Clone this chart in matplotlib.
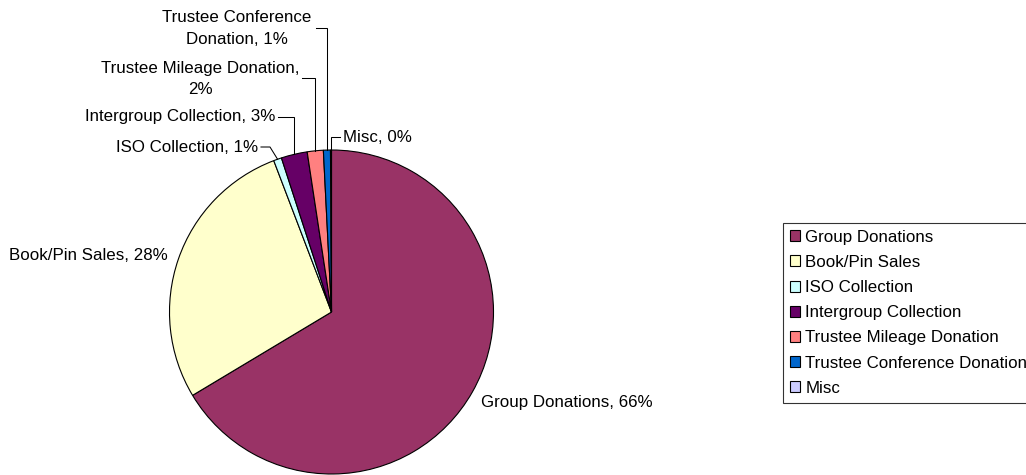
import numpy as np
import matplotlib
matplotlib.use("Agg")
import matplotlib.pyplot as plt
from matplotlib.patches import Patch

# ---------------- data ----------------
categories = ["Group Donations", "Book/Pin Sales", "ISO Collection",
              "Intergroup Collection", "Trustee Mileage Donation",
              "Trustee Conference Donation", "Misc"]
values = [66.4, 27.8, 0.8, 2.6, 1.6, 0.7, 0.1]
colors = ["#993366", "#FFFFCC", "#CCFFFF", "#660066", "#FF8080", "#0066CC", "#CCCCFF"]

# ---------------- layout ----------------
W, H = 1026, 475
FONT = "Liberation Sans"
FS = 12.2

fig = plt.figure(figsize=(W / 100, H / 100), dpi=100)
ax = fig.add_axes([0, 0, 1, 1])


def P(x, y):
    """pixel position (y from top) -> layout coordinates"""
    return x, H - y


cx, cy = P(331.5, 312)
R = 162
wedges, _ = ax.pie(values, colors=colors, startangle=90, counterclock=False,
                   center=(cx, cy), radius=R, frame=True,
                   wedgeprops=dict(edgecolor="black", linewidth=0.8))
ax.set_xlim(0, W)
ax.set_ylim(0, H)
ax.set_aspect("equal")
ax.axis("off")

total = sum(values)
pcts = [v / total * 100 for v in values]
labels = [f"{c}, {int(np.floor(p + 0.5))}%" for c, p in zip(categories, pcts)]
labels[5] = labels[5].replace(" Donation,", "\nDonation,")
labels[4] = labels[4].replace("Donation, ", "Donation,\n")

# label anchor (pixel coords), horizontal alignment
label_pos = {
    0: (481, 402, "left"),
    1: (168, 255, "right"),
    2: (258, 147, "right"),
    3: (275, 117, "right"),
    4: (200, 79, "center"),
    5: (237, 28.5, "center"),
    6: (343, 137, "left"),
}
for i, (x, y, ha) in label_pos.items():
    X, Y = P(x, y)
    ax.text(X, Y, labels[i], ha=ha, va="center", family=FONT, fontsize=FS,
            multialignment="center", linespacing=1.55, color="black")


def edge_point(w):
    mid = np.deg2rad((w.theta1 + w.theta2) / 2)
    return cx + R * np.cos(mid), cy + R * np.sin(mid)


# leader lines: start x, y (pixels), elbow x (None -> vertical to wedge)
leaders = {
    2: (261, 147, 270),
    3: (278, 117, None),
    4: (302, 78, None),
    5: (316, 28, None),
    6: (340, 137, None),
}
for i, (x0, y0, ex) in leaders.items():
    Ex, Ey = edge_point(wedges[i])
    X0, Y0 = P(x0, y0)
    xe = Ex if ex is None else ex
    ax.plot([X0, xe, Ex], [Y0, Y0, Ey], color="black", lw=0.75,
            solid_joinstyle="miter")

handles = [Patch(facecolor=c, edgecolor="black", linewidth=0.8) for c in colors]
leg = fig.legend(handles, categories, loc="upper left",
                 bbox_to_anchor=(783 / W, 1 - 223 / H), borderaxespad=0,
                 prop=dict(family=FONT, size=FS), frameon=True, fancybox=False,
                 edgecolor="black", handlelength=0.62, handleheight=0.62,
                 handletextpad=0.3, borderpad=0.4, labelspacing=0.6)
leg.get_frame().set_linewidth(0.8)

fig.savefig("out.png", dpi=100, facecolor="white")
